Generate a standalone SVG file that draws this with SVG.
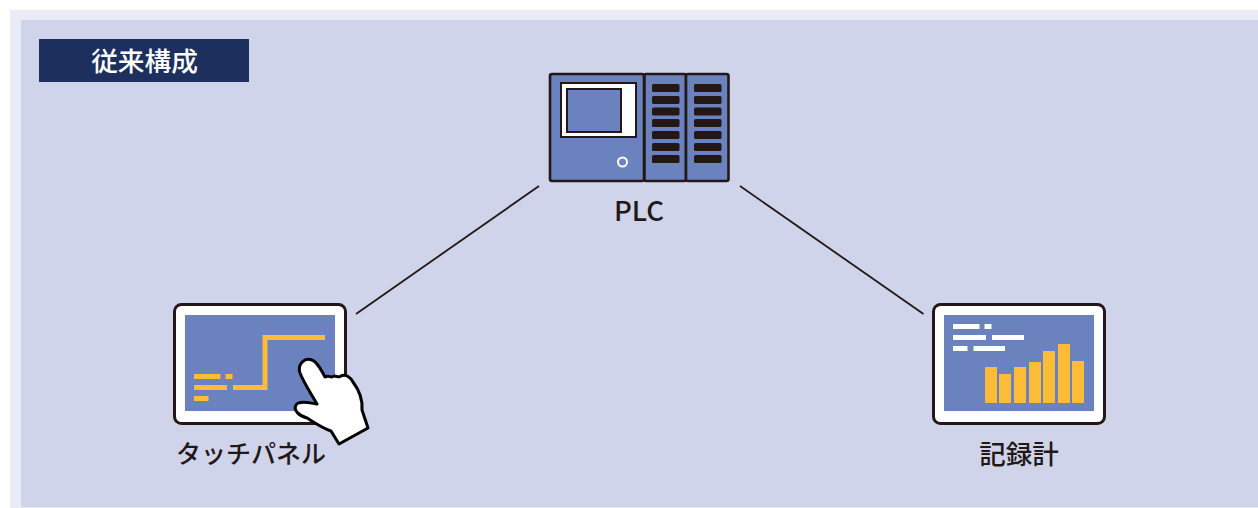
<svg xmlns="http://www.w3.org/2000/svg" width="1258" height="508" viewBox="0 0 1258 508">
<style>
.t{font-family:"Noto Sans CJK JP","Noto Sans",sans-serif;font-size:25px;font-weight:500;fill:#231815;text-anchor:middle}
.dev{fill:#6a83bf;stroke:#231815;stroke-width:2.6;stroke-linejoin:round}
.slot{fill:#231815}
.y{fill:#fcbc38}
.w{fill:#fff}
.frame{fill:#fff;stroke:#231815;stroke-width:3}
.scr{fill:#6a83bf}
</style>
<defs>
<g id="slots"><rect class="slot" x="0" y="0" width="27.500" height="8" rx="1.500"/><rect class="slot" x="0" y="12" width="27.500" height="8" rx="1.500"/><rect class="slot" x="0" y="23.500" width="27.500" height="8" rx="1.500"/><rect class="slot" x="0" y="35" width="27.500" height="8" rx="1.500"/><rect class="slot" x="0" y="47" width="27.500" height="8" rx="1.500"/><rect class="slot" x="0" y="59" width="27.500" height="8" rx="1.500"/><rect class="slot" x="0" y="71" width="27.500" height="8" rx="1.500"/></g>
</defs>
<rect x="0" y="0" width="1258" height="508" fill="#fff"/>
<rect x="10" y="10" width="1248" height="498" fill="#e9ebf7"/>
<rect x="21" y="20" width="1237" height="487" fill="#cfd4ea"/>
<g id="title"><rect x="39" y="39" width="210" height="43" fill="#1d2f5c"/><text x="144.500" y="71" font-family="'Noto Sans CJK JP',sans-serif" font-size="26.700" font-weight="500" fill="#fff" text-anchor="middle">従来構成</text></g>
<g id="connectors" fill="none" stroke="#231815" stroke-width="1.800"><path d="M539 186 356 314"/><path d="M740 186 923.500 314"/></g>
<g id="plc">
<rect class="dev" x="550" y="74" width="94" height="107" rx="2"/>
<rect class="dev" x="644.500" y="74" width="41.500" height="107" rx="1.500"/>
<rect class="dev" x="686" y="74" width="42.500" height="107" rx="2"/>
<rect x="561" y="83" width="75" height="54" fill="#fff" stroke="#231815" stroke-width="2"/>
<rect x="567" y="89" width="54" height="43" fill="#6a83bf" stroke="#231815" stroke-width="2"/>
<circle cx="622.500" cy="162" r="4.500" fill="none" stroke="#fff" stroke-width="2"/>
<use href="#slots" x="652" y="84"/><use href="#slots" x="694" y="84"/>
<text class="t" x="639" y="221" style="font-size:27.500px">PLC</text>
</g>
<g id="touch-panel">
<rect class="frame" x="174.500" y="304.500" width="171" height="119" rx="7"/>
<rect class="scr" x="185" y="315" width="150" height="96"/>
<g class="y"><rect x="194" y="374" width="26.500" height="5"/><rect x="225.500" y="374" width="7" height="5"/><rect x="194" y="385" width="33" height="5"/><rect x="233" y="385" width="30" height="5"/><rect x="194" y="396" width="14.500" height="5"/></g>
<path d="M235 387.500H265V337.500H325" fill="none" stroke="#fcbc38" stroke-width="5"/>
<path d="M300 373C297 364 305 357 312 360C318 362 322 372 325 377C329 375 331 378 333 376.500C336 375 338 378 340 376.500C346 373 351 378 353 382C359 390 363 398 362 410L368 428L339 444L331 431C322 428 312 421 307 418C299 416 293 410 296 405C299 400 310 403 317 404C310 392 304 383 300 373Z" fill="#fff" stroke="#040000" stroke-width="3" stroke-linejoin="round"/>
<text class="t" x="251" y="463">タッチパネル</text>
</g>
<g id="recorder">
<rect class="frame" x="933.500" y="304.500" width="171" height="119" rx="7"/>
<rect class="scr" x="944" y="315" width="150" height="96"/>
<g class="w"><rect x="953" y="324" width="26.500" height="5"/><rect x="984.500" y="324" width="7" height="5"/><rect x="953" y="335" width="33" height="5"/><rect x="992" y="335" width="32" height="5"/><rect x="953" y="346" width="14.500" height="5"/><rect x="973.500" y="346" width="31.500" height="5"/></g>
<g class="y"><rect x="985" y="367" width="12" height="36"/><rect x="999" y="374" width="12" height="29"/><rect x="1014" y="367" width="12" height="36"/><rect x="1029" y="362" width="12" height="41"/><rect x="1043" y="351" width="12" height="52"/><rect x="1058" y="344" width="12" height="59"/><rect x="1072" y="361" width="12" height="42"/></g>
<text class="t" x="1019" y="464" style="font-size:26.500px">記録計</text>
</g>
</svg>
